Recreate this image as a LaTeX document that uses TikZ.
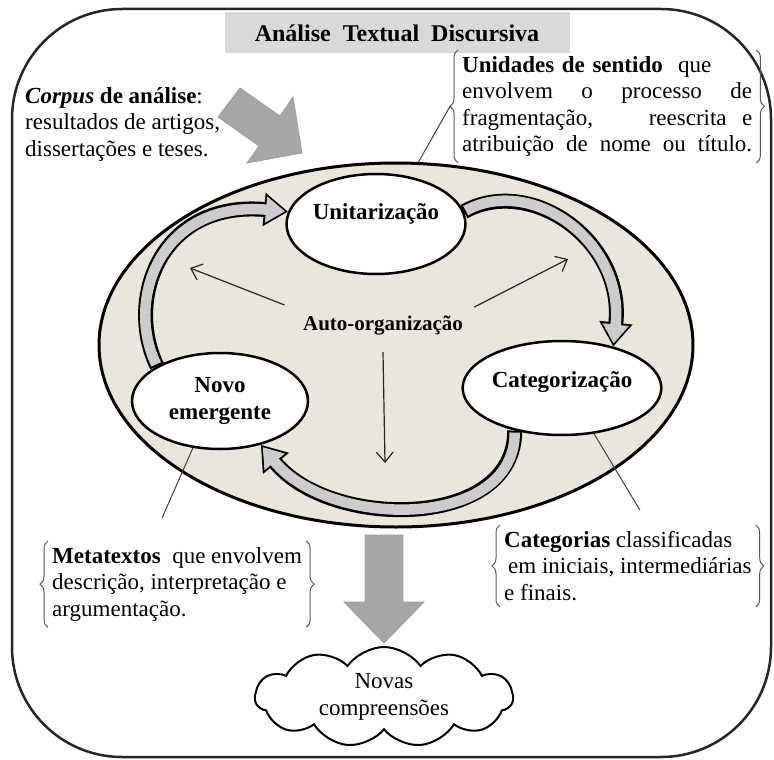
\documentclass[tikz,border=0pt]{standalone}
\usepackage{fontspec}
\setmainfont{Liberation Serif}
\usetikzlibrary{shapes.geometric, shapes.symbols, arrows.meta, positioning, decorations.pathreplacing}
\definecolor{beige}{RGB}{233,231,220}
\pgfdeclarelayer{back}
\pgfdeclarelayer{mid}
\pgfsetlayers{back,mid,main}

\begin{document}
\begin{tikzpicture}[x=1pt, y=-1pt, >=Stealth, font=\fontsize{23}{26.5}\selectfont]
        % Styles
        \tikzstyle{bubble} = [draw, ellipse, fill=white, line width=2.5pt, align=center, inner sep=0pt, font=\fontsize{23}{27}\selectfont\bfseries]
        \tikzstyle{note} = [align=left, inner sep=0pt, anchor=north west]
        \tikzstyle{braced} = [note, inner xsep=4pt, inner ysep=6pt]
        \tikzstyle{brace} = [decorate, decoration={brace, amplitude=8pt}, line width=1pt, black!65]
        \tikzstyle{pointer} = [line width=1pt, black!75]
        \tikzstyle{spoke} = [-{Straight Barb[length=10pt, width=17pt]}, line width=1.2pt, black!85]
        \tikzstyle{bigarrow} = [fill=gray!70, draw=gray!75, line width=0.8pt]
        \tikzstyle{loopout} = [line width=15pt, black, -{Triangle[length=24pt, width=32pt]}]
        \tikzstyle{loopin} = [line width=10.5pt, gray!40, shorten <=2pt, shorten >=3pt, -{Triangle[length=19pt, width=25pt]}]

        \useasboundingbox (0,0) rectangle (774,760);

        % Frame and field
        \begin{pgfonlayer}{back}
        \draw[line width=2.5pt, black!85, rounded corners=110pt] (12,9) rectangle (771,757);
        \node[draw, ellipse, fill=beige, line width=3pt, minimum width=594pt, minimum height=364pt] (field) at (396,345) {};
        \end{pgfonlayer}

        % Nodes
        \node[fill=gray!30, minimum width=345pt, minimum height=41pt, font=\fontsize{24}{28}\selectfont\bfseries] (title) at (397,33) {Análise\ \ Textual\ \ Discursiva};
        \node[note] (corpus) at (25,87) {\textbf{\textit{Corpus} de análise}:\\ resultados de artigos,\\ dissertações e teses.};

        \node[bubble, minimum width=170pt, minimum height=100pt, text depth=25pt] (unit) at (376,224) {Unitarização};
        \node[bubble, minimum width=170pt, minimum height=94pt, text depth=17pt] (cat) at (562,388) {Categorização};
        \node[bubble, minimum width=176pt, minimum height=96pt] (novo) at (220,401) {Novo\\emergente};
        \node[font=\fontsize{21}{24}\selectfont\bfseries] (auto) at (383,325) {Auto-organização};

        \node[braced, text width=290pt] (unid) at (458,50) {\textbf{Unidades de sentido}\ \ que\\
                envolvem\hfill o\hfill processo\hfill de\\
                fragmentação,\hfill reescrita\ \ e\\
                atribuição\hfill de\hfill nome\hfill ou\hfill título.};
        \node[braced] (meta) at (48,541) {\textbf{Metatextos}\ \ que envolvem\\ descrição, interpretação e\\ argumentação.};
        \node[braced] (catnote) at (500,525) {\textbf{Categorias} classificadas\\ \hspace*{4pt}em iniciais, intermediárias\\ e finais.};

        \coordinate (tip) at (384,643);
        \node[cloud, draw, line width=2pt, cloud puffs=11, cloud puff arc=110, aspect=2.6, minimum width=258pt, minimum height=100pt, align=center, inner sep=0pt, below=3pt of tip] (cloud) {Novas\\compreensões};

        % Braces
        \draw[brace] (unid.south west) -- (unid.north west);
        \draw[brace] (unid.north east) -- (unid.south east);
        \draw[brace] (meta.south west) -- (meta.north west);
        \draw[brace] (meta.north east) -- (meta.south east);
        \draw[brace] (catnote.south west) -- (catnote.north west);
        \draw[brace] (catnote.north east) -- (catnote.south east);

        % Cycle
        \begin{pgfonlayer}{mid}
        \draw[loopout] (novo.151) .. controls (125,300) and (160,200) .. (unit.172);
        \draw[loopin] (novo.151) .. controls (125,300) and (160,200) .. (unit.172);
        \draw[loopout] (unit.8) .. controls (530,175) and (625,240) .. (cat.39);
        \draw[loopin] (unit.8) .. controls (530,175) and (625,240) .. (cat.39);
        \draw[loopout] (cat.222) .. controls (515,530) and (330,530) .. (novo.313);
        \draw[loopin] (cat.222) .. controls (515,530) and (330,530) .. (novo.313);
        \end{pgfonlayer}

        % Paths
        \draw[spoke] ([xshift=-15pt, yshift=20pt]auto.west) -- (190,268);
        \draw[spoke] ([xshift=8pt, yshift=18pt]auto.east) -- (568,259);
        \draw[spoke] ([yshift=-14pt]auto.south) -- (385,463);

        \draw[pointer] (field.83) -- ([xshift=-8pt]unid.west);
        \draw[pointer] (novo.240) -- ([xshift=-15pt, yshift=23pt]meta.north);
        \draw[pointer] (cat.305) -- ([xshift=12pt, yshift=15pt]catnote.north);

        % Big arrows
        \filldraw[bigarrow] (240,88) -- (280,116) -- (293,97) -- (302,153) -- (247,163) -- (259,146) -- (218,117) -- cycle;
        \filldraw[bigarrow] (365,535) -- (403,535) -- (403,602) -- (424,602) -- (tip) -- (344,602) -- (365,602) -- cycle;
\end{tikzpicture}
\end{document}
